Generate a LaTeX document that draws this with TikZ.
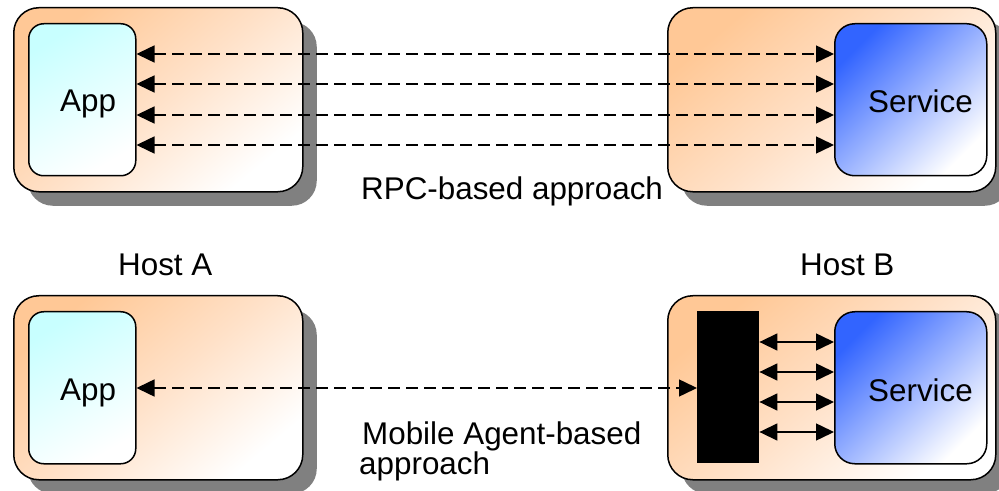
\documentclass[tikz,border=0pt]{standalone}
\usepackage{fontspec}
\setmainfont{Liberation Sans}
\usetikzlibrary{arrows.meta,shadows}
\definecolor{peach}{RGB}{255,200,150}
\definecolor{peachmid}{RGB}{255,225,200}
\definecolor{appcyan}{RGB}{200,255,255}
\definecolor{svcblue}{RGB}{50,100,255}
\definecolor{shadowgray}{RGB}{128,128,128}
\begin{document}
\begin{tikzpicture}[x=1bp,y=-1bp,
  lbl/.style={font=\fontsize{31.5}{31.5}\selectfont, inner sep=0pt, anchor=base west},
  hostbox/.style={draw=black, line width=1.5bp, rounded corners=25bp, anchor=north west,
    inner sep=0pt, minimum width=289bp, minimum height=184bp,
    drop shadow={shadow xshift=14bp, shadow yshift=-14bp, fill=shadowgray, opacity=1},
    top color=peach, bottom color=white, middle color=peachmid, shading angle=40},
  appbox/.style={draw=black, line width=1.5bp, rounded corners=15bp, anchor=north west,
    inner sep=0pt, minimum width=107bp, minimum height=152bp,
    top color=appcyan, bottom color=white, shading angle=30},
  svcbox/.style={draw=black, line width=1.5bp, rounded corners=20bp, anchor=north west,
    inner sep=0pt, minimum width=152bp, minimum height=152bp,
    top color=svcblue, bottom color=white, shading angle=45},
  dasharrow/.style={line width=1.5bp, dash pattern=on 12bp off 6bp,
    {Triangle[length=18bp,width=17bp]}-{Triangle[length=18bp,width=17bp]}},
  solidarrow/.style={line width=1.5bp,
    {Triangle[length=18bp,width=17bp]}-{Triangle[length=18bp,width=17bp]}}
]
\useasboundingbox (0,0) rectangle (999,491);

% hosts
\node[hostbox] (hostA1) at (13,7) {};
\node[hostbox, minimum width=328bp] (hostB1) at (667,7) {};
\node[hostbox] (hostA2) at (13,295) {};
\node[hostbox, minimum width=328bp] (hostB2) at (667,295) {};

% inner boxes
\node[appbox] (app1) at (28,23) {};
\node[svcbox] (svc1) at (834,23) {};
\node[appbox] (app2) at (28,311) {};
\node[svcbox] (svc2) at (834,311) {};
\node[fill=black, anchor=north west, inner sep=0pt, minimum width=62bp, minimum height=152bp] (agent) at (697,311) {};

% labels inside
\node[lbl] (tapp1) at (60,112) {App};
\node[lbl] (tsvc1) at (868,113) {Service};
\node[lbl] (tapp2) at (60,400) {App};
\node[lbl] (tsvc2) at (868,401) {Service};

% RPC arrows
\foreach \yy in {54,84,115,145}{
  \draw[dasharrow] (app1.east |- 0,\yy) -- (svc1.west |- 0,\yy);
}
% mobile agent arrows
\draw[dasharrow] (app2.east |- 0,388) -- (agent.west |- 0,388);
\foreach \yy in {342,372,402,432}{
  \draw[solidarrow] (agent.east |- 0,\yy) -- (svc2.west |- 0,\yy);
}

% captions
\node[lbl] (rpc) at (361,200) {RPC-based approach};
\node[lbl] (hA) at (118,276) {Host A};
\node[lbl] (hB) at (800,276) {Host B};
\node[lbl] (mob1) at (362,444) {Mobile Agent-based};
\node[lbl] (mob2) at (359,474) {approach};
\end{tikzpicture}
\end{document}
